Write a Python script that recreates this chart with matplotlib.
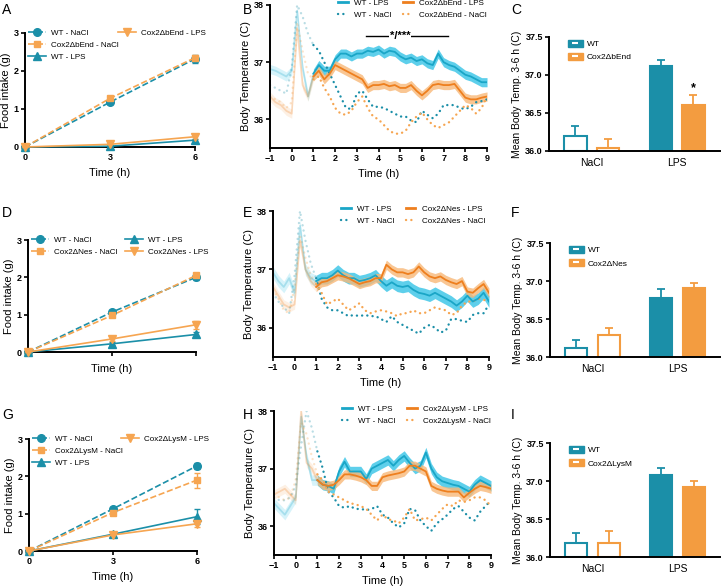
import matplotlib
matplotlib.use('Agg')
import matplotlib.pyplot as plt
import numpy as np
from matplotlib.lines import Line2D
from matplotlib.patches import Patch

plt.rcParams['font.family'] = ['Liberation Sans', 'DejaVu Sans']

TEAL = '#1b8fa8'
CYAN = '#1aa6c7'
CYAN_BAND = '#36c4e6'
ORANGE = '#f6a551'
ORANGE_LINE = '#ee7f1e'
ORANGE_BAND = '#f8b878'
ORANGE_BAR = '#f39c40'
DOTS = (0, (0.05, 2.2))

# ---- food intake (g), 0/3/6 h ----
intake_time = [0, 3, 6]

a_wt_nacl = [0, 1.18, 2.32]
a_ko_nacl = [0, 1.28, 2.35]
a_wt_lps = [0, 0.02, 0.18]
a_ko_lps = [0, 0.07, 0.27]
a_err = [[0, 0.05, 0.10], [0, 0.05, 0.08], [0, 0.02, 0.04], [0, 0.03, 0.05]]

d_wt_nacl = [0, 1.07, 2.00]
d_ko_nacl = [0, 0.98, 2.05]
d_wt_lps = [0, 0.22, 0.47]
d_ko_lps = [0, 0.35, 0.73]
d_err = [[0, 0.05, 0.08], [0, 0.05, 0.06], [0, 0.04, 0.06], [0, 0.05, 0.10]]

g_wt_nacl = [0, 1.13, 2.28]
g_ko_nacl = [0, 1.03, 1.90]
g_wt_lps = [0, 0.45, 0.92]
g_ko_lps = [0, 0.43, 0.73]
g_err = [[0, 0.05, 0.08], [0, 0.06, 0.20], [0, 0.04, 0.20], [0, 0.04, 0.10]]

# ---- body temperature (C), sampled every 0.25 h from -1 to 9 h ----
temp_time = np.arange(-1, 9.01, 0.25)

b_wt_lps = [36.88, 36.85, 36.80, 36.75, 36.85, 37.90, 36.90, 36.40, 36.80,
            36.95, 36.85, 36.85, 37.05, 37.15, 37.15, 37.10, 37.15, 37.15, 37.20, 37.18,
            37.22, 37.15, 37.20, 37.18, 37.10, 37.05, 37.08, 37.02, 37.05, 36.98, 36.95,
            37.15, 37.00, 36.95, 36.92, 36.85, 36.78, 36.75, 36.70, 36.65, 36.65]
b_ko_lps = [36.40, 36.30, 36.25, 36.15, 36.10, 37.60, 36.60, 36.40, 36.75,
            36.85, 36.70, 36.80, 36.95, 36.90, 36.85, 36.80, 36.75, 36.70, 36.55, 36.60,
            36.60, 36.62, 36.58, 36.60, 36.55, 36.55, 36.60, 36.50, 36.42, 36.50, 36.60,
            36.62, 36.60, 36.60, 36.62, 36.50, 36.38, 36.35, 36.35, 36.38, 36.40]
b_wt_nacl = [36.60, 36.55, 36.50, 36.45, 36.90, 38.00, 37.80, 37.50, 37.30,
             37.20, 37.00, 36.80, 36.60, 36.40, 36.20, 36.18, 36.45, 36.50, 36.35, 36.22,
             36.22, 36.20, 36.15, 36.10, 36.05, 36.05, 35.98, 35.95, 36.15, 36.08, 36.02,
             36.10, 36.25, 36.25, 36.25, 36.20, 36.18, 36.22, 36.30, 36.32, 36.35]
b_ko_nacl = [36.40, 36.35, 36.30, 36.20, 36.30, 37.70, 37.20, 36.80, 36.70,
             36.75, 36.55, 36.40, 36.20, 36.10, 36.08, 36.15, 36.30, 36.40, 36.20, 36.05,
             36.00, 35.90, 35.80, 35.75, 35.75, 35.80, 35.95, 36.05, 36.12, 36.00, 35.90,
             35.85, 35.90, 35.95, 36.05, 36.15, 36.25, 36.20, 36.10, 36.20, 36.40]
b_sem = [0.08, 0.08]

e_wt_lps = [36.95, 36.80, 36.70, 36.85, 36.60, 37.75, 37.00, 36.85, 36.80,
            36.85, 36.85, 36.90, 36.98, 36.90, 36.85, 36.85, 36.80, 36.82, 36.85, 36.90,
            36.80, 36.72, 36.78, 36.72, 36.70, 36.72, 36.65, 36.60, 36.58, 36.55, 36.60,
            36.55, 36.50, 36.45, 36.38, 36.45, 36.55, 36.45, 36.50, 36.60, 36.45]
e_ko_lps = [36.70, 36.55, 36.40, 36.35, 36.40, 37.50, 37.00, 36.80, 36.70,
            36.78, 36.80, 36.85, 36.90, 36.88, 36.85, 36.80, 36.75, 36.78, 36.80, 36.85,
            36.85, 37.08, 37.00, 36.95, 36.95, 36.92, 36.95, 37.05, 36.95, 36.88, 36.85,
            36.88, 36.82, 36.78, 36.75, 36.80, 36.62, 36.60, 36.68, 36.75, 36.60]
e_wt_nacl = [36.60, 36.45, 36.35, 36.25, 36.90, 38.00, 37.50, 37.10, 36.85,
             36.50, 36.35, 36.30, 36.30, 36.25, 36.20, 36.22, 36.20, 36.22, 36.20, 36.20,
             36.15, 36.10, 36.20, 36.10, 36.05, 36.00, 35.95, 35.90, 36.00, 36.05, 36.00,
             35.92, 35.95, 36.15, 36.15, 36.12, 36.10, 36.22, 36.25, 36.25, 36.40]
e_ko_nacl = [36.65, 36.50, 36.30, 36.25, 36.70, 37.60, 37.20, 36.90, 36.75,
             36.60, 36.40, 36.45, 36.50, 36.40, 36.30, 36.35, 36.42, 36.30, 36.25, 36.28,
             36.30, 36.28, 36.25, 36.20, 36.25, 36.25, 36.30, 36.25, 36.25, 36.30, 36.35,
             36.32, 36.30, 36.22, 36.25, 36.38, 36.45, 36.45, 36.50, 36.48, 36.45]
e_sem = [0.10, 0.08]

h_wt_lps = [36.40, 36.30, 36.20, 36.35, 36.50, 37.90, 37.20, 36.80, 36.80,
            36.72, 36.70, 36.65, 36.95, 37.12, 36.95, 36.95, 36.95, 36.82, 37.00, 37.05,
            37.10, 37.15, 37.05, 37.15, 37.22, 37.10, 37.00, 37.05, 37.28, 37.00, 36.85,
            36.78, 36.75, 36.72, 36.70, 36.65, 36.60, 36.72, 36.80, 36.75, 36.70]
h_ko_lps = [36.55, 36.60, 36.65, 36.55, 36.45, 38.00, 37.10, 37.00, 36.80,
            36.72, 36.70, 36.72, 36.80, 36.90, 36.90, 36.88, 36.85, 36.80, 36.70, 36.70,
            36.85, 36.88, 36.90, 36.92, 36.95, 37.05, 37.05, 37.00, 36.95, 36.70, 36.65,
            36.62, 36.60, 36.60, 36.60, 36.50, 36.58, 36.65, 36.70, 36.68, 36.65]
h_wt_nacl = [36.50, 36.45, 36.45, 36.50, 36.70, 37.40, 38.00, 37.70, 37.30,
             37.00, 36.60, 36.50, 36.35, 36.32, 36.35, 36.30, 36.30, 36.28, 36.30, 36.35,
             36.20, 36.15, 36.05, 35.98, 36.05, 36.30, 36.28, 36.10, 36.00, 35.92, 36.05,
             36.12, 36.20, 36.30, 36.35, 36.25, 36.15, 36.10, 36.25, 36.35, 36.45]
h_ko_nacl = [36.55, 36.50, 36.45, 36.50, 36.80, 37.80, 37.60, 37.20, 36.90,
             36.80, 36.60, 36.55, 36.50, 36.45, 36.40, 36.38, 36.35, 36.30, 36.20, 36.10,
             36.20, 36.12, 36.10, 36.05, 36.15, 36.30, 36.10, 36.12, 36.15, 36.10, 36.20,
             36.30, 36.38, 36.35, 36.45, 36.42, 36.45, 36.50, 36.50, 36.45, 36.35]
h_sem = [0.09, 0.08]

# ---- mean body temperature 3-6 h: WT NaCl, KO NaCl, WT LPS, KO LPS ----
bar_groups = ['NaCl', 'LPS']
c_means = [36.20, 36.04, 37.12, 36.61]
c_errs = [0.13, 0.12, 0.08, 0.12]
f_means = [36.12, 36.29, 36.78, 36.91]
f_errs = [0.11, 0.09, 0.11, 0.07]
i_means = [36.18, 36.18, 37.08, 36.92]
i_errs = [0.14, 0.16, 0.09, 0.08]


def style_axis(ax):
    for side in ('top', 'right'):
        ax.spines[side].set_visible(False)
    for side in ('left', 'bottom'):
        ax.spines[side].set_linewidth(1.4)
    ax.tick_params(direction='out', length=3, width=1.2, labelsize=6.5, pad=1.5)
    for lab in ax.get_xticklabels() + ax.get_yticklabels():
        lab.set_fontweight('bold')


def draw_intake(ax, wt_nacl, ko_nacl, wt_lps, ko_lps, errs, ko_name, split_legend, show_xticks=True):
    specs = [
        (wt_nacl, errs[0], TEAL, '--', 'o', 5.5, 'WT - NaCl'),
        (ko_nacl, errs[1], ORANGE, '--', 's', 5.0, ko_name + ' - NaCl'),
        (wt_lps, errs[2], TEAL, '-', '^', 5.5, 'WT - LPS'),
        (ko_lps, errs[3], ORANGE, '-', 'v', 5.5, ko_name + ' - LPS'),
    ]
    handles = []
    for y, e, col, ls, mk, ms, lab in specs:
        ax.errorbar(intake_time, y, yerr=e, color=col, ls=ls, lw=1.2, marker=mk, ms=ms,
                    capsize=2.5, elinewidth=1, clip_on=False, zorder=3)
        handles.append(Line2D([], [], color=col, ls=ls, lw=1.2, marker=mk, ms=ms, label=lab))
    ax.set_xlim(0, 6)
    ax.set_ylim(0, 3)
    ax.set_xticks([0, 3, 6])
    ax.set_yticks([0, 1, 2, 3])
    ax.set_ylabel('Food intake (g)', fontsize=8, labelpad=2)
    ax.set_xlabel('Time (h)', fontsize=8, labelpad=4)
    if not show_xticks:
        ax.set_xticklabels([])
    style_axis(ax)
    kw = dict(frameon=False, fontsize=5.8, handlelength=2.2, handletextpad=0.6,
              borderaxespad=0, labelspacing=0.55, loc='upper left')
    if split_legend:
        leg = ax.legend(handles=handles[:3], bbox_to_anchor=(0.0, 1.06), **kw)
        ax.add_artist(leg)
        ax.legend(handles=handles[3:], bbox_to_anchor=(0.53, 1.06), **kw)
    else:
        ax.legend(handles=handles, ncol=2, columnspacing=1.0, bbox_to_anchor=(0.0, 1.06), **kw)


def draw_temp(ax, wt_lps, wt_nacl, ko_lps, ko_nacl, sems, ko_name):
    t = temp_time
    pre = t <= 1
    post = t >= 1
    for y, col in [(wt_nacl, TEAL), (ko_nacl, ORANGE)]:
        y = np.array(y)
        ax.plot(t[pre], y[pre], color=col, lw=1.7, ls=DOTS, dash_capstyle='round', alpha=0.3)
        ax.plot(t[post], y[post], color=col, lw=1.7, ls=DOTS, dash_capstyle='round')
    for y, sem, col, band in [(wt_lps, sems[0], CYAN, CYAN_BAND), (ko_lps, sems[1], ORANGE_LINE, ORANGE_BAND)]:
        y = np.array(y)
        ax.fill_between(t[pre], y[pre] - sem, y[pre] + sem, color=band, alpha=0.2, lw=0)
        ax.plot(t[pre], y[pre], color=col, lw=1.3, alpha=0.25)
        ax.fill_between(t[post], y[post] - sem, y[post] + sem, color=band, alpha=0.8, lw=0)
        ax.plot(t[post], y[post], color=col, lw=1.3)
    ax.set_xlim(-1, 9)
    ax.set_ylim(35.5, 38)
    ax.set_xticks(range(-1, 10))
    ax.set_yticks([36, 37, 38])
    ax.set_ylabel('Body Temperature (C)', fontsize=8, labelpad=2)
    ax.set_xlabel('Time (h)', fontsize=8, labelpad=4)
    style_axis(ax)
    handles = [
        Line2D([], [], color=CYAN, lw=2, label='WT - LPS'),
        Line2D([], [], color=TEAL, lw=1.7, ls=DOTS, dash_capstyle='round', label='WT - NaCl'),
        Line2D([], [], color=ORANGE_LINE, lw=2, label=ko_name + ' - LPS'),
        Line2D([], [], color=ORANGE, lw=1.7, ls=DOTS, dash_capstyle='round',
               label=ko_name + ' - NaCl'),
    ]
    ax.legend(handles=handles, ncol=2, frameon=False, fontsize=5.8, handlelength=1.2,
              handletextpad=0.8, columnspacing=1.4, labelspacing=0.5, borderaxespad=0,
              loc='upper left', bbox_to_anchor=(0.3, 1.06))


def draw_bars(ax, means, errs, ko_name, star=False):
    pos = [-0.19, 0.19, 0.81, 1.19]
    cols = [TEAL, ORANGE_BAR, TEAL, ORANGE_BAR]
    for i in range(4):
        filled = i >= 2
        ax.bar(pos[i], means[i] - 36, bottom=36, width=0.26,
               facecolor=cols[i] if filled else 'white', edgecolor=cols[i], lw=1.5, zorder=2)
        ax.errorbar(pos[i], means[i], yerr=[[0], [errs[i]]], color=cols[i], capsize=3,
                    elinewidth=1.3, capthick=1.3, zorder=1)
    if star:
        ax.text(pos[3], means[3] + errs[3] + 0.02, '*', ha='center', va='bottom',
                fontsize=9, fontweight='bold')
    ax.set_xlim(-0.5, 1.5)
    ax.set_ylim(36, 37.5)
    ax.set_yticks([36.0, 36.5, 37.0, 37.5])
    ax.set_yticklabels(['36.0', '36.5', '37.0', '37.5'])
    ax.set_xticks([0, 1])
    ax.set_xticklabels(bar_groups)
    ax.set_ylabel('Mean Body Temp. 3-6 h (C)', fontsize=7.5, labelpad=2)
    style_axis(ax)
    ax.tick_params(axis='x', length=0, labelsize=7.5, pad=5)
    for lab in ax.get_xticklabels():
        lab.set_fontweight('normal')
    dash = Line2D([], [], ls='none', marker='_', color='white', ms=4, mew=1.5)
    handles = [(Patch(facecolor=TEAL, edgecolor=TEAL), dash),
               (Patch(facecolor=ORANGE_BAR, edgecolor=ORANGE_BAR), dash)]
    ax.legend(handles=handles, labels=['WT', ko_name], frameon=False, fontsize=6,
              handlelength=1.8, handleheight=0.8, handletextpad=0.5, labelspacing=0.6,
              borderaxespad=0, loc='upper left', bbox_to_anchor=(0.09, 1.0))


fig = plt.figure(figsize=(7.21, 5.87), dpi=100)

ax_a = fig.add_axes([0.0347, 0.7496, 0.2358, 0.1942])
ax_b = fig.add_axes([0.3745, 0.7479, 0.3010, 0.2436])
ax_c = fig.add_axes([0.7614, 0.7428, 0.2372, 0.1942])
ax_d = fig.add_axes([0.0388, 0.4003, 0.2330, 0.1908])
ax_e = fig.add_axes([0.3786, 0.3918, 0.2996, 0.2487])
ax_f = fig.add_axes([0.7628, 0.3918, 0.2358, 0.1942])
ax_g = fig.add_axes([0.0402, 0.0613, 0.2330, 0.1908])
ax_h = fig.add_axes([0.3800, 0.0545, 0.3010, 0.2453])
ax_i = fig.add_axes([0.7628, 0.0511, 0.2358, 0.1942])

draw_intake(ax_a, a_wt_nacl, a_ko_nacl, a_wt_lps, a_ko_lps, a_err, 'Cox2\u0394bEnd', True)
draw_intake(ax_d, d_wt_nacl, d_ko_nacl, d_wt_lps, d_ko_lps, d_err, 'Cox2\u0394Nes', False,
            show_xticks=False)
draw_intake(ax_g, g_wt_nacl, g_ko_nacl, g_wt_lps, g_ko_lps, g_err, 'Cox2\u0394LysM', True)

draw_temp(ax_b, b_wt_lps, b_wt_nacl, b_ko_lps, b_ko_nacl, b_sem, 'Cox2\u0394bEnd')
draw_temp(ax_e, e_wt_lps, e_wt_nacl, e_ko_lps, e_ko_nacl, e_sem, 'Cox2\u0394Nes')
draw_temp(ax_h, h_wt_lps, h_wt_nacl, h_ko_lps, h_ko_nacl, h_sem, 'Cox2\u0394LysM')

# significance marker in B
ax_b.plot([3.4, 7.2], [37.45, 37.45], color='black', lw=1)
ax_b.text(5.0, 37.45, '*/***', ha='center', va='center', fontsize=8, fontweight='bold',
          bbox=dict(facecolor='white', edgecolor='none', pad=0.5))

draw_bars(ax_c, c_means, c_errs, 'Cox2\u0394bEnd', star=True)
draw_bars(ax_f, f_means, f_errs, 'Cox2\u0394Nes')
draw_bars(ax_i, i_means, i_errs, 'Cox2\u0394LysM')

for letter, x, y in [('A', 2, 10), ('B', 243, 10), ('C', 511, 10),
                     ('D', 2, 213), ('E', 243, 213), ('F', 511, 213),
                     ('G', 2, 415), ('H', 243, 415), ('I', 511, 415)]:
    fig.text(x / 721, 1 - y / 587, letter, fontsize=10, ha='left', va='center')

fig.savefig('out.png', dpi=100)
